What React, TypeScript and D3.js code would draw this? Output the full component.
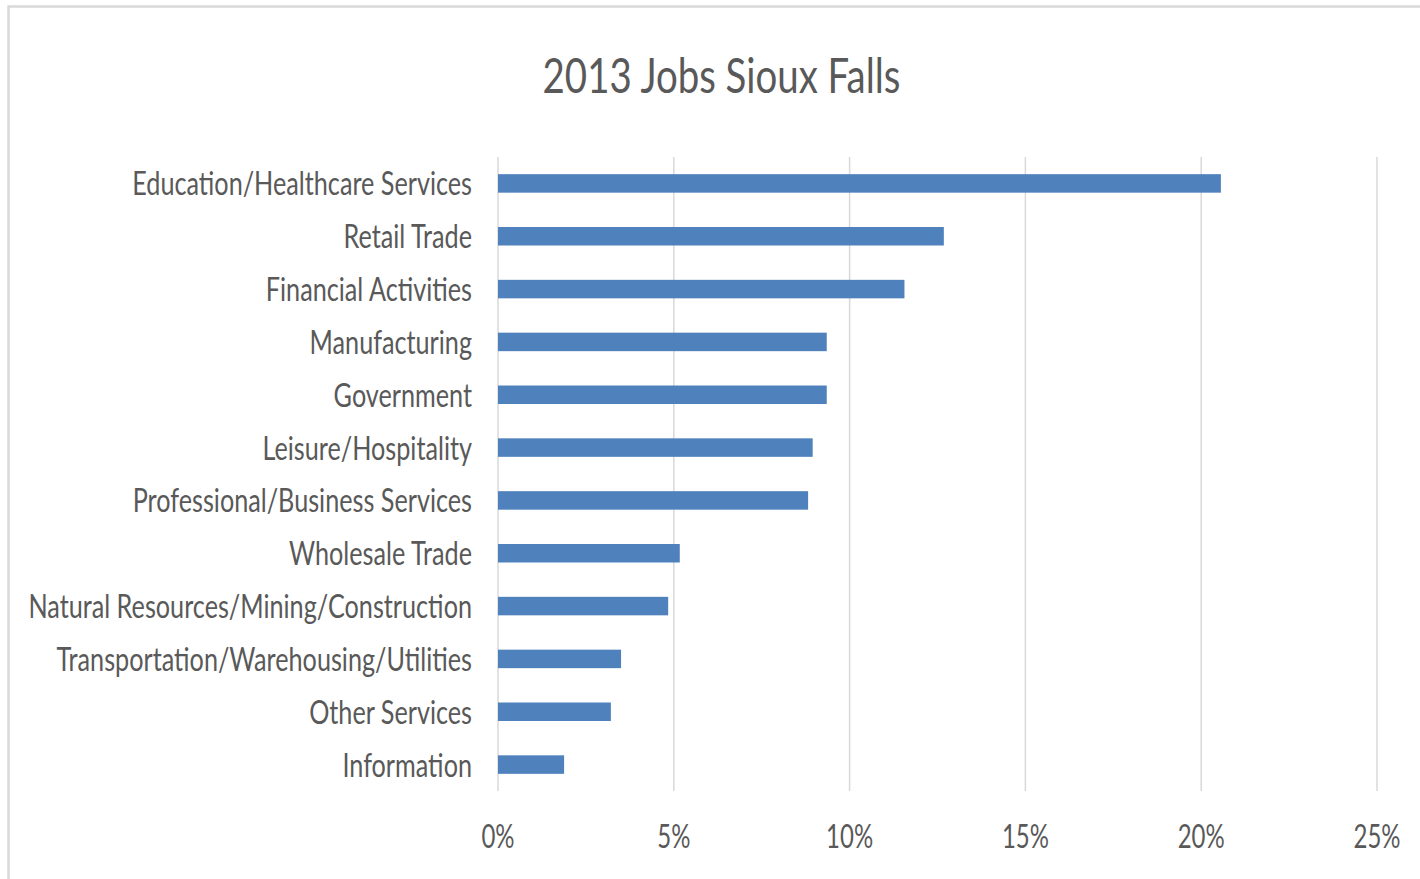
import React from "react";
import * as d3 from "d3";

const categories = [
  "Education/Healthcare Services",
  "Retail Trade",
  "Financial Activities",
  "Manufacturing",
  "Government",
  "Leisure/Hospitality",
  "Professional/Business Services",
  "Wholesale Trade",
  "Natural Resources/Mining/Construction",
  "Transportation/Warehousing/Utilities",
  "Other Services",
  "Information",
];
const shares = [20.56, 12.68, 11.56, 9.35, 9.35, 8.95, 8.82, 5.17, 4.84, 3.5, 3.21, 1.88];
const tickValues = [0, 5, 10, 15, 20, 25];
const title = "2013 Jobs Sioux Falls";

const W = 1420;
const H = 879;
const FONT = "Lato, 'Open Sans', sans-serif";
const SX_TICK = 0.75;
const SX_LABEL = 0.788;
const SX_TITLE = 0.8;
const TEXT = "#595959";

export default function App() {
  const x = d3.scaleLinear().domain([0, 25]).range([498, 1377]);
  const y = d3
    .scaleBand<string>()
    .domain(categories)
    .range([157, 791])
    .paddingInner(0.65)
    .paddingOuter(0.325);
  const data = categories.map((c, i) => ({ c, v: shares[i] }));
  return (
    <svg
      width={W}
      height={H}
      style={{ position: "absolute", left: 0, top: 0, background: "#fff" }}
    >
      <rect x={8.5} y={6.5} width={W} height={H} fill="#fff" stroke="#d9d9d9" strokeWidth={2.5} />
      <text
        transform={`translate(721.5,93) scale(${SX_TITLE},1)`}
        textAnchor="middle"
        fontFamily={FONT}
        fontSize={48}
        fill={TEXT}
      >
        {title}
      </text>
      {tickValues.map((t) => (
        <g key={t}>
          <line x1={x(t)} x2={x(t)} y1={157} y2={791} stroke="#d9d9d9" strokeWidth={1.5} />
          <text
            transform={`translate(${x(t)},848) scale(${SX_TICK},1)`}
            textAnchor="middle"
            fontFamily={FONT}
            fontSize={32}
            fill={TEXT}
          >
            {d3.format(".0%")(t / 100)}
          </text>
        </g>
      ))}
      {data.map((d) => {
        const yc = (y(d.c) as number) + y.bandwidth() / 2;
        return (
          <g key={d.c}>
            <rect
              x={x(0)}
              y={y(d.c)}
              width={x(d.v) - x(0)}
              height={y.bandwidth()}
              fill="#4f81bd"
            />
            <text
              transform={`translate(472,${yc + 12}) scale(${SX_LABEL},1)`}
              textAnchor="end"
              fontFamily={FONT}
              fontSize={32}
              fill={TEXT}
            >
              {d.c}
            </text>
          </g>
        );
      })}
    </svg>
  );
}
